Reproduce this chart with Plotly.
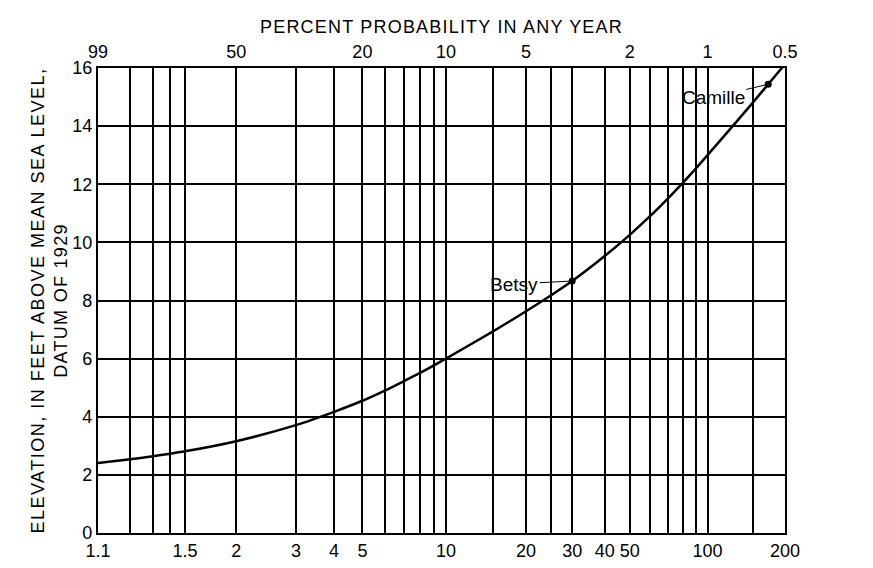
import numpy as np
import plotly.graph_objects as go

# ---- data ----
curve_T = [1.1, 1.2, 1.3, 1.4, 1.5, 2, 3, 4, 5, 6, 7, 8, 9, 10, 15, 20, 25, 30, 40, 50,
           60, 70, 80, 90, 100, 150, 172, 200]
curve_elev = [2.41, 2.54, 2.64, 2.73, 2.81, 3.16, 3.71, 4.17, 4.55, 4.9, 5.22, 5.5, 5.76,
              6.0, 6.94, 7.63, 8.19, 8.67, 9.53, 10.26, 10.91, 11.5, 12.04, 12.54, 13.0,
              14.81, 15.44, 16.13]

storm_names = ["Betsy", "Camille"]
storm_T = [30, 172]
storm_elev = [8.67, 15.44]

grid_T = [1.1, 1.2, 1.3, 1.4, 1.5, 2, 3, 4, 5, 6, 7, 8, 9, 10, 15, 20, 25, 30, 40, 50,
          60, 70, 80, 90, 100, 150, 200]
bottom_labels = {1.1: "1.1", 1.5: "1.5", 2: "2", 3: "3", 4: "4", 5: "5", 10: "10", 20: "20",
                 30: "30", 40: "40", 50: "50", 100: "100", 200: "200"}
top_percent = [99, 50, 20, 10, 5, 2, 1, 0.5]
top_text = ["99", "50", "20", "10", "5", "2", "1", "0.5"]
y_ticks = [0, 2, 4, 6, 8, 10, 12, 14, 16]

T_MIN, T_MAX = 1.1, 200


def gumbel(T):
    T = np.asarray(T, dtype=float)
    return -np.log(-np.log(1.0 - 1.0 / T))


top_T = [max(100.0 / p, T_MIN) for p in top_percent]

FONT = "Liberation Sans, Arial, sans-serif"
fs = 18

fig = go.Figure()
fig.add_trace(go.Scatter(x=gumbel(curve_T), y=curve_elev, mode="lines",
                         line=dict(color="black", width=2.5, shape="spline", smoothing=0.8),
                         hoverinfo="skip", showlegend=False))
fig.add_trace(go.Scatter(x=gumbel(storm_T), y=storm_elev, mode="markers",
                         marker=dict(color="black", size=7), showlegend=False))
# invisible trace to activate the top axis
fig.add_trace(go.Scatter(x=gumbel([T_MIN, T_MAX]), y=[0, 0], xaxis="x2", mode="lines",
                         line=dict(width=0), showlegend=False, hoverinfo="skip"))

xr = [float(gumbel(T_MIN)), float(gumbel(T_MAX))]

fig.update_layout(
    width=865, height=560,
    margin=dict(l=90, r=88, t=60, b=35),
    paper_bgcolor="white", plot_bgcolor="white",
    font=dict(family=FONT, size=fs, color="black"),
    xaxis=dict(range=xr, tickmode="array", tickvals=list(gumbel(grid_T)),
               ticktext=[bottom_labels.get(t, "") for t in grid_T],
               showgrid=True, gridcolor="black", gridwidth=1.8,
               showline=True, linecolor="black", linewidth=2.2, mirror=True,
               ticks="", zeroline=False, tickfont=dict(size=fs), automargin=False),
    xaxis2=dict(range=xr, overlaying="x", side="top", tickmode="array",
                tickvals=list(gumbel(top_T)), ticktext=top_text,
                showgrid=False, showline=False, ticks="", zeroline=False,
                tickfont=dict(size=fs), ticklabelstandoff=5, automargin=False,
                title=dict(text="<span style='letter-spacing:1.2px'>PERCENT PROBABILITY IN ANY YEAR</span>",
                           font=dict(size=fs), standoff=4)),
    yaxis=dict(range=[0, 16], tickmode="array", tickvals=y_ticks,
               showgrid=True, gridcolor="black", gridwidth=1.8,
               showline=True, linecolor="black", linewidth=2.2, mirror=True,
               ticks="", zeroline=False, tickfont=dict(size=fs), automargin=False,
               title=dict(text="<span style='letter-spacing:1.5px'>ELEVATION, IN FEET ABOVE MEAN SEA LEVEL,</span>"
                               "<br><span style='letter-spacing:1.3px'>DATUM OF 1929</span>",
                          font=dict(size=fs), standoff=0)),
)

offsets = {"Betsy": (-58, 3), "Camille": (-55, 13)}
for name, T, e in zip(storm_names, storm_T, storm_elev):
    ax, ay = offsets[name]
    fig.add_annotation(x=float(gumbel(T)), y=e, xref="x", yref="y", text=name,
                       showarrow=True, arrowhead=0, arrowwidth=1, arrowcolor="black",
                       ax=ax, ay=ay, font=dict(size=19, family=FONT, color="black"))

fig.write_html("out.html")
